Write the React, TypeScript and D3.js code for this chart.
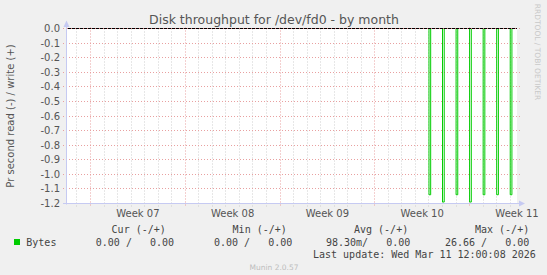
import React from "react";
import * as d3 from "d3";

// ---- data ----
const title = "Disk throughput for /dev/fd0 - by month";
const yAxisLabel = "Pr second read (-) / write (+)";
const yTickValues = [0, -0.1, -0.2, -0.3, -0.4, -0.5, -0.6, -0.7, -0.8, -0.9, -1.0, -1.1, -1.2];
const weekTickDates = ["2026-02-08", "2026-02-15", "2026-02-22", "2026-03-01", "2026-03-08"];
const weekLabels = ["Week 07", "Week 08", "Week 09", "Week 10", "Week 11"];
const spikeDays = ["2026-03-05", "2026-03-06", "2026-03-07", "2026-03-08", "2026-03-09", "2026-03-10", "2026-03-11"];
const readValues = [-1.14, -1.19, -1.14, -1.19, -1.14, -1.14, -1.14];
const legendHeaders = ["Cur (-/+)", "Min (-/+)", "Avg (-/+)", "Max (-/+)"];
const legendValues = ["0.00 /   0.00", "0.00 /   0.00", "98.30m/   0.00", "26.66 /   0.00"];
const seriesName = "Bytes";
const lastUpdate = "Last update: Wed Mar 11 12:00:08 2026";
const startTime = "2026-02-06T05:30:00";
const endTime = "2026-03-11T12:00:08";

const parseDay = (s: string) => {
  const [y, m, d] = s.split("-").map(Number);
  return new Date(y, m - 1, d);
};
const parseTime = (s: string) => {
  const [dp, tp] = s.split("T");
  const [y, m, d] = dp.split("-").map(Number);
  const [hh, mm, ss] = tp.split(":").map(Number);
  return new Date(y, m - 1, d, hh, mm, ss);
};

export default function App() {
  const W = 547, H = 275;
  const x0 = 66.5, x1 = 517;
  const yTop = 28.5, yBot = 203.5;
  const start = parseTime(startTime);
  const end = parseTime(endTime);
  const x = d3.scaleTime().domain([start, end]).range([x0, x1]);
  const y = d3.scaleLinear().domain([-1.2, 0]).range([yBot, yTop]);
  const px = (v: number) => Math.floor(v) + 0.5;

  const days = d3.timeDay.range(d3.timeDay.ceil(start), end);
  const weekDates = weekTickDates.map(parseDay);
  const weekSet = new Set(weekDates.map((d) => +d));
  const minorDays = days.filter((d) => !weekSet.has(+d));

  // series points (step line)
  const pts: [Date, number][] = [[start, 0]];
  spikeDays.forEach((s, i) => {
    const t = parseDay(s);
    pts.push([t, readValues[i]]);
    pts.push([d3.timeHour.offset(t, 3), 0]);
  });
  pts.push([end, 0]);
  const line = d3
    .line<[Date, number]>()
    .x((d) => x(d[0]))
    .y((d) => y(d[1]))
    .curve(d3.curveStepAfter);

  const axisCol = "#c6caf2";
  const majorCol = "#e8a0a0";
  const minorCol = "#cfcfcf";
  const textCol = "#555";
  const legCol = "#444";
  const legX = [111.6, 232.6, 354, 475];
  const valX = [95.8, 214, 326, 445];

  return (
    <svg
      width={W}
      height={H}
      style={{ position: "fixed", left: 0, top: 0, display: "block" }}
      fontFamily="'DejaVu Sans', sans-serif"
    >
      <rect x={0} y={0} width={W} height={H} fill="#f0f0f0" />
      <rect x={67} y={28} width={x1 - 67} height={yBot - 28} fill="#ffffff" />

      {/* minor vertical grid */}
      {minorDays.map((d, i) => (
        <line
          key={"mv" + i}
          x1={px(x(d))}
          x2={px(x(d))}
          y1={yTop}
          y2={yBot + 3}
          stroke={minorCol}
          strokeWidth={1}
          strokeDasharray="1,2"
        />
      ))}
      {/* major vertical grid */}
      {weekDates.map((d, i) => (
        <line
          key={"Mv" + i}
          x1={px(x(d))}
          x2={px(x(d))}
          y1={yTop - 1}
          y2={yBot + 3}
          stroke={majorCol}
          strokeWidth={1}
          strokeDasharray="1,2"
        />
      ))}
      {/* horizontal grid */}
      {yTickValues.map((v, i) => (
        <line
          key={"h" + i}
          x1={63}
          x2={520}
          y1={px(y(v))}
          y2={px(y(v))}
          stroke={majorCol}
          strokeWidth={1}
          strokeDasharray="1,2"
        />
      ))}

      {/* data */}
      <path d={line(pts) || ""} fill="none" stroke="#00cc00" strokeWidth={1} />
      <line x1={67} x2={x1} y1={px(y(0))} y2={px(y(0))} stroke="#000" strokeWidth={1} />
      <line x1={67} x2={x1} y1={px(y(0))} y2={px(y(0))} stroke="#d98080" strokeWidth={1} strokeDasharray="1,3" />

      {/* axes */}
      <line x1={x0} x2={x0} y1={22} y2={yBot + 1} stroke={axisCol} strokeWidth={1} />
      <polygon points={`63.5,27 69.5,27 66.5,20.5`} fill={axisCol} />
      <line x1={63} x2={520} y1={yBot} y2={yBot} stroke={axisCol} strokeWidth={1} />
      <polygon points={`519,200.5 519,206.5 525,203.5`} fill={axisCol} />

      {/* y tick labels */}
      {yTickValues.map((v, i) => (
        <text key={"yl" + i} x={60} y={y(v) + 3.5} fontSize={10} fill={textCol} textAnchor="end">
          {v.toFixed(1)}
        </text>
      ))}
      {/* x tick labels */}
      {weekDates.map((d, i) => (
        <text
          key={"xl" + i}
          x={x(d3.timeHour.offset(d, 84))}
          y={217}
          fontSize={10}
          fill={textCol}
          textAnchor="middle"
        >
          {weekLabels[i]}
        </text>
      ))}

      {/* title */}
      <text x={274} y={24} fontSize={12.5} fill={textCol} textAnchor="middle">
        {title}
      </text>
      {/* y axis label */}
      <text
        transform={`translate(14,116) rotate(-90)`}
        fontSize={10}
        fill={textCol}
        textAnchor="middle"
      >
        {yAxisLabel}
      </text>
      {/* watermark */}
      <text
        transform={`translate(534.5,52) rotate(90)`}
        fontSize={7.5}
        fill="#c8c8c8"
        textAnchor="middle"
      >
        RRDTOOL / TOBI OETIKER
      </text>

      {/* legend */}
      <g fontFamily="'DejaVu Sans Mono', monospace" fontSize={10} fill={legCol} style={{ whiteSpace: "pre" }}>
        {legendHeaders.map((h, i) => (
          <text key={"lh" + i} x={legX[i]} y={232.5} xmlSpace="preserve">
            {h}
          </text>
        ))}
        <rect x={14} y={239} width={6} height={6} fill="#00cc00" />
        <text x={26.3} y={245.5}>{seriesName}</text>
        {legendValues.map((v, i) => (
          <text key={"lv" + i} x={valX[i]} y={245.5} xmlSpace="preserve">
            {v}
          </text>
        ))}
        <text x={313} y={258} xmlSpace="preserve">
          {lastUpdate}
        </text>
      </g>
      <text x={274} y={269.5} fontSize={7.5} fill="#bdbdbd" textAnchor="middle">
        Munin 2.0.57
      </text>
    </svg>
  );
}
